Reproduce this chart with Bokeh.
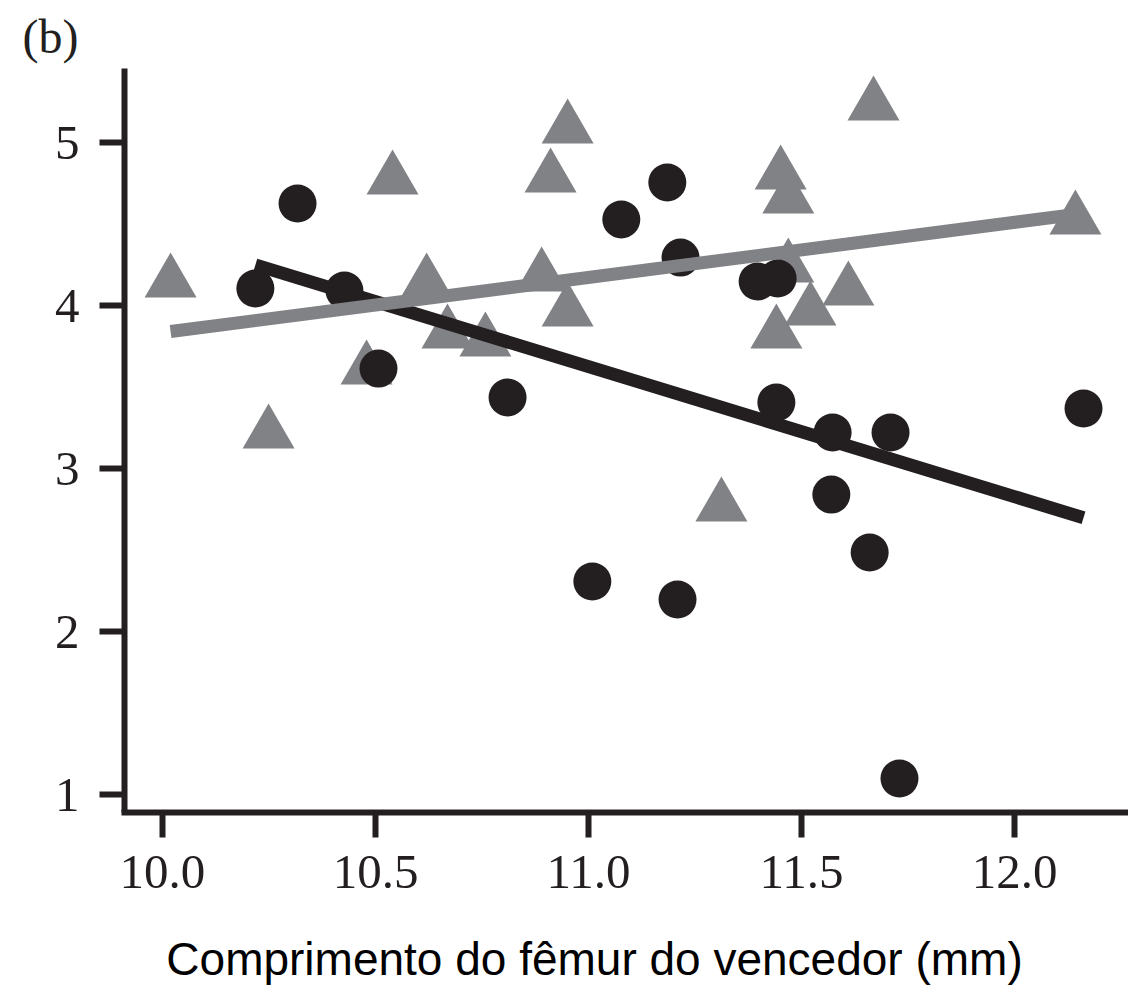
from bokeh.plotting import figure
from bokeh.models import Range1d, FixedTicker
from bokeh.embed import file_html
from bokeh.resources import INLINE

# --- data ---
circle_x = [10.218, 10.317, 10.427, 10.507, 10.810, 11.009, 11.077, 11.185, 11.216, 11.209,
            11.397, 11.444, 11.441, 11.573, 11.570, 11.709, 11.660, 11.730, 12.162]
circle_y = [4.104, 4.626, 4.092, 3.613, 3.436, 2.307, 4.528, 4.755, 4.294, 2.196,
            4.147, 4.166, 3.405, 3.221, 2.840, 3.221, 2.485, 1.098, 3.368]

tri_x = [10.019, 10.249, 10.540, 10.479, 10.620, 10.669, 10.758, 10.890, 10.951, 10.911,
         10.951, 11.312, 11.451, 11.469, 11.469, 11.441, 11.521, 11.610, 11.669, 12.143]
tri_y = [4.141, 3.215, 4.773, 3.607, 4.141, 3.828, 3.779, 4.178, 3.963, 4.785,
         5.086, 2.767, 4.804, 4.656, 4.233, 3.828, 3.969, 4.092, 5.227, 4.528]

black_fit = [12.403, -0.798]   # intercept, slope
grey_fit = [0.454, 0.338]      # intercept, slope

x_ticks = [10.0, 10.5, 11.0, 11.5, 12.0]
x_tick_labels = ["10.0", "10.5", "11.0", "11.5", "12.0"]
y_ticks = [1, 2, 3, 4, 5]
y_tick_labels = ["1", "2", "3", "4", "5"]

x_label = "Comprimento do fêmur do vencedor (mm)"
panel_label = "(b)"

BLACK = "#231F20"
GREY = "#808285"

p = figure(width=1128, height=987, output_backend="svg", toolbar_location=None,
           x_range=Range1d(9.9108, 12.2676), y_range=Range1d(0.8896, 5.454),
           min_border_left=124, min_border_right=0, min_border_top=68, min_border_bottom=175)
p.outline_line_color = None
p.grid.visible = False
p.background_fill_color = "white"
p.border_fill_color = "white"

# panel letter as the plot title, pushed to the far left
p.title.text = panel_label
p.title.align = "left"
p.title.offset = -102
p.title.vertical_align = "bottom"
p.title.standoff = 11
p.title.text_font = "Liberation Serif"
p.title.text_font_size = "48px"
p.title.text_font_style = "normal"
p.title.text_color = BLACK

for ax, ticks, labels, standoff in ((p.xaxis[0], x_ticks, x_tick_labels, 18),
                                    (p.yaxis[0], y_ticks, y_tick_labels, 20)):
    ax.ticker = FixedTicker(ticks=ticks)
    ax.major_label_overrides = {t: l for t, l in zip(ticks, labels)}
    ax.axis_line_width = 6
    ax.axis_line_color = BLACK
    ax.major_tick_line_width = 6
    ax.major_tick_line_color = BLACK
    ax.major_tick_out = 25
    ax.major_tick_in = 0
    ax.minor_tick_out = 0
    ax.minor_tick_in = 0
    ax.major_label_text_font = "Liberation Serif"
    ax.major_label_text_font_size = "49px"
    ax.major_label_text_color = BLACK
    ax.major_label_standoff = standoff
p.xaxis[0].axis_line_cap = "square"

# x-axis title; trailing no-break spaces shift its centre left, as in the reference
xa = p.xaxis[0]
xa.axis_label = x_label + "\u00a0" * 5
xa.axis_label_standoff = 42
xa.axis_label_text_font = "Liberation Sans"
xa.axis_label_text_font_size = "46px"
xa.axis_label_text_font_style = "normal"
xa.axis_label_text_color = "#000000"

# triangles (grey)
p.scatter(tri_x, tri_y, marker="triangle", size=52, fill_color=GREY, line_color=None)
# circles (black)
p.scatter(circle_x, circle_y, marker="circle", size=38, fill_color=BLACK, line_color=None)

# fitted lines over each group's x range
bx = [min(circle_x), max(circle_x)]
by = [black_fit[0] + black_fit[1] * v for v in bx]
p.line(bx, by, line_width=13, line_color=BLACK)
gx = [min(tri_x), max(tri_x)]
gy = [grey_fit[0] + grey_fit[1] * v for v in gx]
p.line(gx, gy, line_width=13, line_color=GREY)

open("out.html", "w").write(file_html(p, INLINE))
